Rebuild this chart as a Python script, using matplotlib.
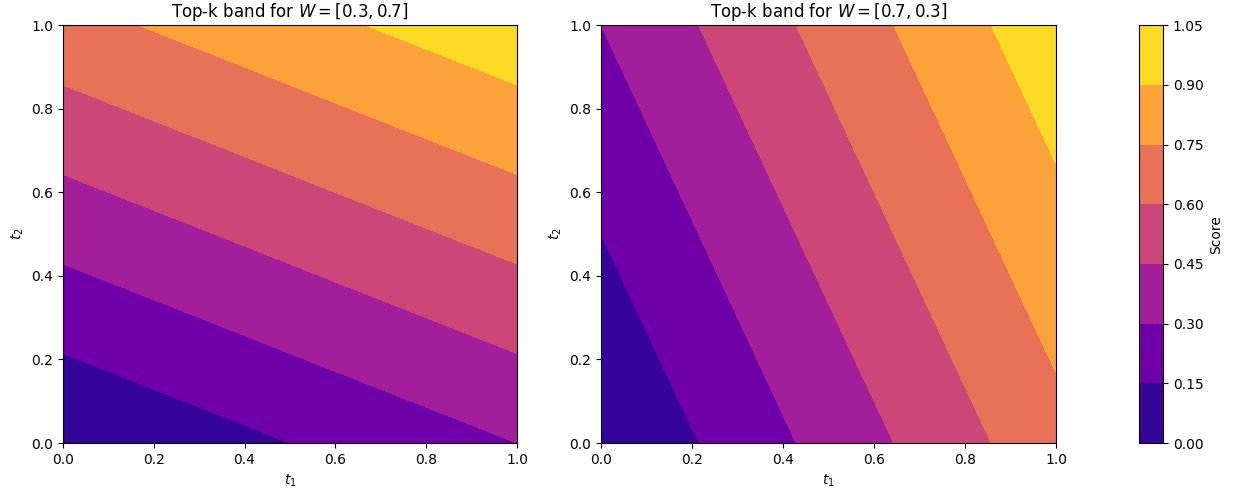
import matplotlib
matplotlib.use("Agg")
import matplotlib.pyplot as plt
import numpy as np

# weight vectors for the two panels
weights = [[0.3, 0.7], [0.7, 0.3]]
titles = ["Top-k band for $W = [0.3, 0.7]$", "Top-k band for $W = [0.7, 0.3]$"]
levels = [0.0, 0.15, 0.30, 0.45, 0.60, 0.75, 0.90, 1.05]
ticks = [0.0, 0.2, 0.4, 0.6, 0.8, 1.0]


def main():
    t1 = np.linspace(0, 1, 200)
    t2 = np.linspace(0, 1, 200)
    T1, T2 = np.meshgrid(t1, t2)

    fig = plt.figure(figsize=(12.37, 4.95), dpi=100)
    ax1 = fig.add_axes([0.0509, 0.105, 0.367, 0.844])
    ax2 = fig.add_axes([0.4859, 0.105, 0.368, 0.844])
    cax = fig.add_axes([0.9208, 0.105, 0.0194, 0.844])

    cs = None
    for ax, w, title in zip([ax1, ax2], weights, titles):
        score = w[0] * T1 + w[1] * T2
        cs = ax.contourf(T1, T2, score, levels=levels, cmap="plasma")
        ax.set_title(title)
        ax.set_xlabel("$t_1$")
        ax.set_ylabel("$t_2$")
        ax.set_xticks(ticks)
        ax.set_yticks(ticks)

    cb = fig.colorbar(cs, cax=cax)
    cb.set_ticks(levels)
    cb.ax.set_yticklabels([f"{v:.2f}" for v in levels])
    cb.set_label("Score")

    fig.savefig("out.png", dpi=100)


if __name__ == "__main__":
    main()
